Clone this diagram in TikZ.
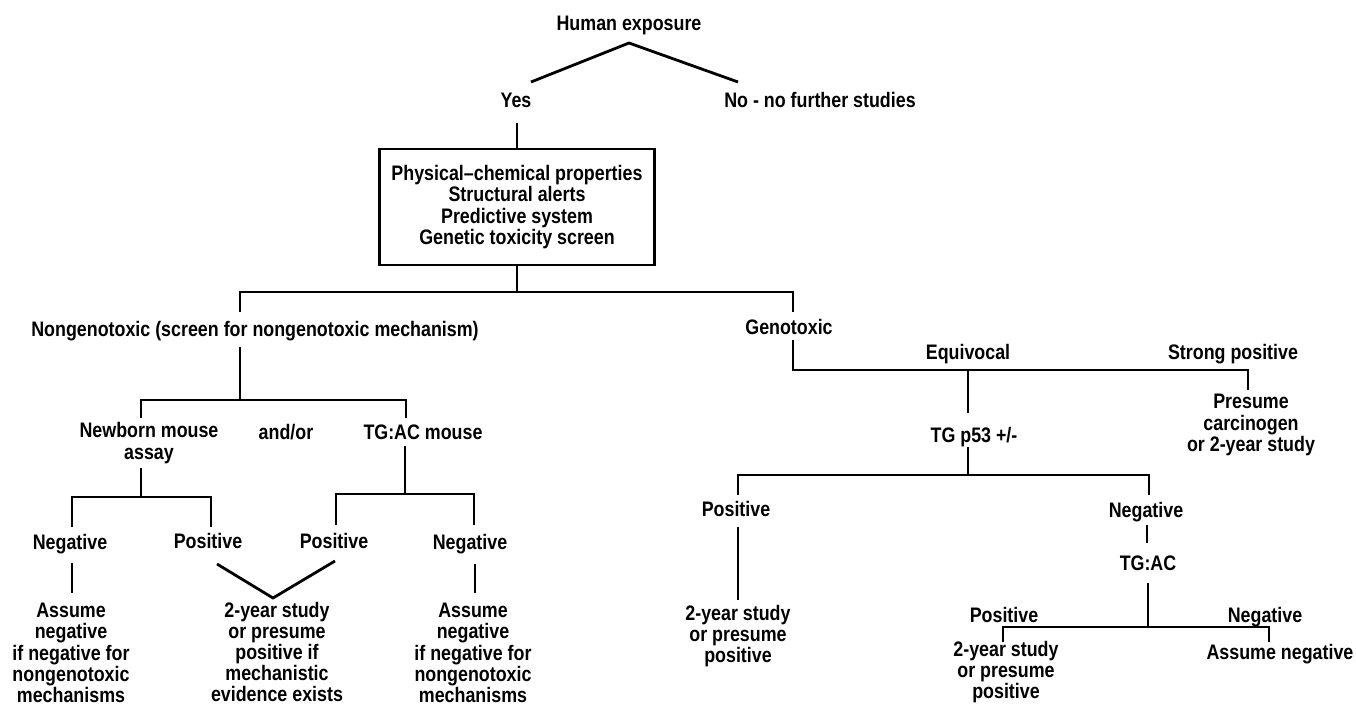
\documentclass[tikz,border=0pt]{standalone}
\usepackage{fontspec}
\newfontfamily\dfont[FakeStretch=0.85]{Liberation Sans}
\begin{document}
\begin{tikzpicture}[x=1pt,y=-1pt,
  lbl/.style={inner sep=0pt, font=\dfont\bfseries\fontsize{21}{21.2}\selectfont, align=center},
  one/.style={lbl, text height=15pt, text depth=0pt},
  ln/.style={line width=2.8pt, line join=miter}]
\fill[white] (0,0) rectangle (1356,706);
\useasboundingbox (0,0) rectangle (1356,706);

% nodes
\node[one] (hum) at (629,23) {Human exposure};
\node[one] (yes) at (516,100) {Yes};
\node[one] (no) at (820,100) {No - no further studies};
\node[lbl, draw, line width=2.8pt, minimum width=275pt, minimum height=116pt] (box) at (517,207)
  {Physical–chemical properties\\Structural alerts\\Predictive system\\Genetic toxicity screen};
\node[one] (ng) at (255,329) {Nongenotoxic (screen for nongenotoxic mechanism)};
\node[one] (gen) at (789,327) {Genotoxic};
\node[lbl] (nb) at (149,443) {Newborn mouse\\assay};
\node[one] (andor) at (286,432) {and/or};
\node[one] (tgm) at (423,432) {TG:AC mouse};
\node[one] (neg1) at (70,542) {Negative};
\node[one] (pos1) at (208,541) {Positive};
\node[one] (pos2) at (334,541) {Positive};
\node[one] (neg2) at (470,542) {Negative};
\node[lbl] (ass1) at (71,653) {Assume\\negative\\if negative for\\nongenotoxic\\mechanisms};
\node[lbl] (mid) at (277,652) {2-year study\\or presume\\positive if\\mechanistic\\evidence exists};
\node[lbl] (ass2) at (473,653) {Assume\\negative\\if negative for\\nongenotoxic\\mechanisms};
\node[one] (equiv) at (968,352) {Equivocal};
\node[one] (strong) at (1233,352) {Strong positive};
\node[lbl] (pres) at (1251,425) {Presume\\carcinogen\\or 2-year study};
\node[one] (p53) at (974,435) {TG p53 +/-};
\node[one] (pos3) at (736,509) {Positive};
\node[one] (neg3) at (1146,510) {Negative};
\node[lbl] (tys1) at (738,636) {2-year study\\or presume\\positive};
\node[one] (tgac) at (1148,563) {TG:AC};
\node[one] (pos4) at (1004,615) {Positive};
\node[one] (neg4) at (1265,615) {Negative};
\node[lbl] (tys2) at (1006,672) {2-year study\\or presume\\positive};
\node[one] (assn) at (1280,652) {Assume negative};

% coordinates
\coordinate (humV) at (629,43);
\coordinate (yesV) at (531,82);
\coordinate (noV) at (738,82);
\coordinate (yesB) at (517,123);
\coordinate (j1) at (517,292);
\coordinate (j1L) at (240,292);
\coordinate (j1R) at (793,292);
\coordinate (ngT) at (240,312);
\coordinate (genT) at (793,312);
\coordinate (ngB) at (240,347);
\coordinate (j2) at (240,400);
\coordinate (j2L) at (141,400);
\coordinate (j2R) at (406,400);
\coordinate (nbT) at (141,418);
\coordinate (tgmT) at (406,418);
\coordinate (nbB) at (141,468);
\coordinate (j3) at (141,497);
\coordinate (j3L) at (72,497);
\coordinate (j3R) at (211,497);
\coordinate (neg1T) at (72,527);
\coordinate (pos1T) at (211,527);
\coordinate (tgmB) at (405,446);
\coordinate (j4) at (405,494);
\coordinate (j4L) at (336,494);
\coordinate (j4R) at (474,494);
\coordinate (pos2T) at (336,525);
\coordinate (neg2T) at (474,525);
\coordinate (neg1B) at (72,563);
\coordinate (ass1T) at (72,593);
\coordinate (pos1B) at (217,564);
\coordinate (midT) at (273,598);
\coordinate (pos2B) at (335,561);
\coordinate (neg2B) at (475,564);
\coordinate (ass2T) at (475,593);
\coordinate (genB) at (793,340);
\coordinate (j5) at (793,370);
\coordinate (j5E) at (968,370);
\coordinate (j5R) at (1248,370);
\coordinate (presT) at (1248,390);
\coordinate (p53T) at (968,413);
\coordinate (p53B) at (968,447);
\coordinate (j6) at (968,475);
\coordinate (j6L) at (738,475);
\coordinate (j6R) at (1149,475);
\coordinate (pos3T) at (738,495);
\coordinate (neg3T) at (1149,495);
\coordinate (pos3B) at (738,527);
\coordinate (tys1T) at (738,600);
\coordinate (neg3B) at (1147,525);
\coordinate (tgacT) at (1147,543);
\coordinate (tgacB) at (1148,583);
\coordinate (j7) at (1148,627);
\coordinate (j7L) at (1003,627);
\coordinate (j7R) at (1269,627);
\coordinate (tys2T) at (1003,642);
\coordinate (assnT) at (1269,642);

% connectors
\draw[ln] (yesV) -- (humV) -- (noV);
\draw[ln] (yesB) -- (box.north);
\draw[ln] (box.south) -- (j1);
\draw[ln] (ngT) -- (j1L) -- (j1R) -- (genT);
\draw[ln] (ngB) -- (j2);
\draw[ln] (nbT) -- (j2L) -- (j2R) -- (tgmT);
\draw[ln] (nbB) -- (j3);
\draw[ln] (neg1T) -- (j3L) -- (j3R) -- (pos1T);
\draw[ln] (tgmB) -- (j4);
\draw[ln] (pos2T) -- (j4L) -- (j4R) -- (neg2T);
\draw[ln] (neg1B) -- (ass1T);
\draw[ln] (pos1B) -- (midT) -- (pos2B);
\draw[ln] (neg2B) -- (ass2T);
\draw[ln] (genB) -- (j5) -- (j5R) -- (presT);
\draw[ln] (j5E) -- (p53T);
\draw[ln] (p53B) -- (j6);
\draw[ln] (pos3T) -- (j6L) -- (j6R) -- (neg3T);
\draw[ln] (pos3B) -- (tys1T);
\draw[ln] (neg3B) -- (tgacT);
\draw[ln] (tgacB) -- (j7);
\draw[ln] (tys2T) -- (j7L) -- (j7R) -- (assnT);
\end{tikzpicture}
\end{document}
